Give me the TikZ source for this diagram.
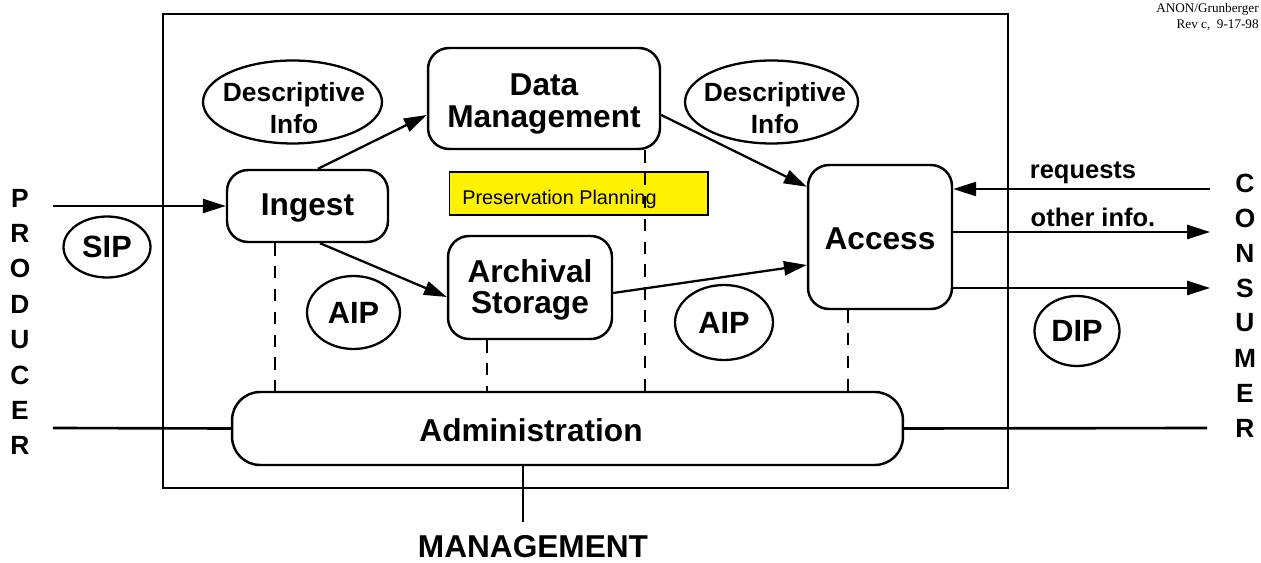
\documentclass[tikz,border=0pt]{standalone}
\usepackage{fontspec}
\setmainfont{Liberation Sans}
\newfontfamily\notefont{Liberation Serif}
\usetikzlibrary{arrows.meta,shapes.geometric}
\newcommand{\bigbf}{\fontsize{18}{18.5}\selectfont\bfseries}
\begin{document}
\begin{tikzpicture}[x=0.02cm,y=-0.02cm,
  box/.style={draw, line width=1.4pt, rounded corners=12pt, inner sep=0pt},
  boxtext/.style={align=center, font=\bigbf, inner sep=0pt},
  info/.style={draw, ellipse, line width=1.3pt, inner sep=0pt},
  infotext/.style={align=center, inner sep=0pt, font=\fontsize{15}{18.5}\selectfont\bfseries},
  tag/.style={draw, ellipse, line width=1.3pt, inner sep=0pt, font=\fontsize{17.5}{18}\selectfont\bfseries},
  flow/.style={line width=1.3pt, -{Triangle[length=13pt,width=8pt]}},
  plain/.style={line width=1.5pt},
  link/.style={line width=1.5pt, dash pattern=on 7pt off 6pt},
  side/.style={font=\fontsize{15}{15}\selectfont\bfseries},
  lab/.style={font=\fontsize{14.5}{15}\selectfont\bfseries}]
\useasboundingbox (0,0) rectangle (1261,563);
% frame
\draw[line width=1.6pt] (163,14) rectangle (1008,488);
% boxes
\node[box, minimum width=4.64cm, minimum height=2.02cm] (dm) at (544,98.5) {};
\node[boxtext] (dmtext) at (544,104) {Data\\Management};
\node[box, minimum width=3.22cm, minimum height=1.44cm] (ingest) at (307.5,206) {};
\node[boxtext] (ingesttext) at (307.5,208) {Ingest};
\node[box, minimum width=3.28cm, minimum height=2.06cm] (arch) at (530,287.5) {};
\node[boxtext, font=\fontsize{18}{17.6}\selectfont\bfseries] (archtext) at (530,289.5) {Archival\\Storage};
\node[box, minimum width=2.88cm, minimum height=2.88cm] (access) at (880,237) {};
\node[boxtext] (accesstext) at (880,239) {Access};
\node[box, rounded corners=16pt, minimum width=13.42cm, minimum height=1.46cm] (adm) at (567.5,428.5) {};
\node[boxtext] (admtext) at (531,430) {Administration};
\node[draw, fill=yellow, line width=0.6pt, minimum width=5.18cm, minimum height=0.86cm, inner sep=0pt] (pp) at (578.5,193.5) {};
\node[anchor=base west, inner sep=0pt, font=\fontsize{11.3}{12}\selectfont] (pptext) at (462,205) {Preservation Planning};
% ellipses
\node[info, minimum width=3.58cm, minimum height=1.66cm] (di1) at (292.5,102) {};
\node[infotext] (di1text) at (294,108) {Descriptive\\Info};
\node[info, minimum width=3.46cm, minimum height=1.66cm] (di2) at (771.5,102) {};
\node[infotext] (di2text) at (775,108) {Descriptive\\Info};
\node[tag, minimum width=1.74cm, minimum height=1.22cm] (sip) at (107,247) {SIP};
\node[tag, minimum width=1.86cm, minimum height=1.46cm] (aip1) at (353.5,312.5) {AIP};
\node[tag, minimum width=1.96cm, minimum height=1.5cm] (aip2) at (724,322.5) {AIP};
\node[tag, minimum width=1.7cm, minimum height=1.4cm] (dip) at (1077,331) {DIP};
% side letters
\foreach \l [count=\i from 0] in {P,R,O,D,U,C,E,R}
  \node[side] (prod\i) at (20,198+35.4*\i) {\l};
\foreach \l [count=\i from 0] in {C,O,N,S,U,M,E,R}
  \node[side] (cons\i) at (1245,183+35*\i) {\l};
% coordinates
\coordinate (pin) at (53,206);
\coordinate (pl) at (53,428);
\coordinate (cl) at (1207,428);
\coordinate (mg) at (523,522);
\coordinate (rq) at (1210,189);
\coordinate (oi) at (1210,232);
\coordinate (dp) at (1210,288);
\coordinate (x1) at (275,0);
\coordinate (x2) at (487,0);
\coordinate (x3) at (645,0);
\coordinate (x4) at (848,0);
% dashed links
\draw[link] (x1 |- ingest.south) -- (x1 |- adm.north);
\draw[link] (x2 |- arch.south) -- (x2 |- adm.north);
\draw[link] (x3 |- dm.south) -- (x3 |- adm.north);
\draw[link] (x4 |- access.south) -- (x4 |- adm.north);
% flows
\draw[flow] (pin) -- (ingest.west);
\draw[flow] ([xshift=0.21cm]ingest.north) -- ([yshift=-0.33cm]dm.west);
\draw[flow] ([xshift=0.25cm]ingest.south) -- ([yshift=-0.19cm]arch.west);
\draw[flow] ([yshift=-0.33cm]dm.east) -- ([yshift=-0.46cm]access.north west);
\draw[flow] ([yshift=-0.11cm]arch.east) -- ([yshift=-0.56cm]access.west);
\draw[flow] (rq) -- (rq -| access.east);
\draw[flow] (access.east |- oi) -- (oi);
\draw[flow] (access.east |- dp) -- (dp);
\draw[plain] (pl) -- (adm.west);
\draw[plain] (adm.east) -- (cl);
\draw[plain] (mg |- adm.south) -- (mg);
% labels
\node[lab] (lreq) at (1083,173) {requests};
\node[lab] (loth) at (1093,217) {other info.};
\node[font=\bigbf, inner sep=0pt] (mgt) at (533,547) {MANAGEMENT};
\node[anchor=north east, align=right, inner sep=0pt, font=\notefont\fontsize{7.5}{9}\selectfont] (note) at (1259,3) {ANON/Grunberger\\Rev c,~~9-17-98};
\end{tikzpicture}
\end{document}
